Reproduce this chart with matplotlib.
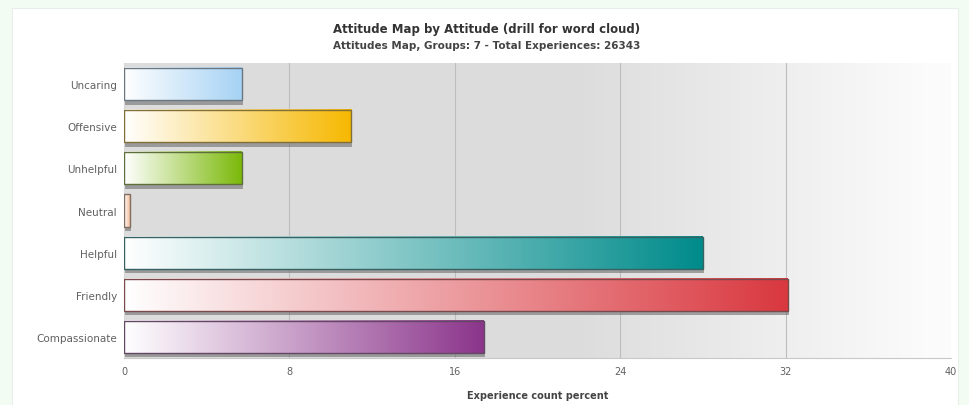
import numpy as np
import matplotlib
matplotlib.use("Agg")
import matplotlib.pyplot as plt
from matplotlib.colors import LinearSegmentedColormap, to_rgb
from matplotlib.transforms import offset_copy

categories = ["Uncaring", "Offensive", "Unhelpful", "Neutral", "Helpful", "Friendly", "Compassionate"]
percent = [5.7, 11.0, 5.7, 0.3, 28.0, 32.1, 17.4]
colors = ["#a6d2f4", "#f6b800", "#7bb90a", "#f2b48c", "#008b8b", "#d9383f", "#8b358b"]
xticks = [0, 8, 16, 24, 32, 40]

title = "Attitude Map by Attitude (drill for word cloud)"
subtitle = "Attitudes Map, Groups: 7 - Total Experiences: 26343"
xlabel = "Experience count percent"

plt.rcParams["font.family"] = ["DejaVu Sans"]

fig = plt.figure(figsize=(9.69, 4.06), dpi=100)
fig.patch.set_facecolor("#f3fcf3")

# white card behind the chart
card = plt.Rectangle((12 / 969, 0), (958 - 12) / 969, (406 - 9) / 406,
                     transform=fig.transFigure, facecolor="white",
                     edgecolor="#e8efe8", lw=0.8, zorder=-10)
fig.add_artist(card)

ax = fig.add_axes([124 / 969, 1 - 359 / 406, (951 - 124) / 969, (359 - 64) / 406])
ax.set_zorder(1)
ax.set_facecolor("none")

# plot-area background: grey fading to white on the right
xs = np.linspace(0, 1, 400)
bg = np.where(xs < 0.55, 0.865, 0.865 + (0.985 - 0.865) * np.clip((xs - 0.55) / 0.42, 0, 1))
bg_rgb = np.dstack([bg, bg, bg])[0][None, :, :]
ax.imshow(bg_rgb, extent=[0, 1, 0, 1], transform=ax.transAxes, aspect="auto", zorder=0)

ypos = np.arange(len(categories))
bar_h = 0.76

for x in xticks[1:-1]:
    ax.axvline(x, color="#bdbdbd", lw=0.8, zorder=0.5)

# drop shadows
shadow_tr = offset_copy(ax.transData, fig=fig, x=1.0, y=-4.5, units="dots")
ax.barh(ypos, percent, height=bar_h, color="#6e6e6e", alpha=0.6,
        transform=shadow_tr, zorder=1)

# gradient fills: white on the left to full colour on the right
for y, v, c in zip(ypos, percent, colors):
    cmap = LinearSegmentedColormap.from_list("g", ["#ffffff", c])
    grad = np.linspace(0, 1, 256)[None, :]
    ax.imshow(grad, cmap=cmap, extent=[0, v, y + bar_h / 2, y - bar_h / 2],
              aspect="auto", zorder=2, interpolation="bilinear")

grey = np.array(to_rgb("#707070"))
edge_cols = [tuple(0.5 * np.array(to_rgb(c)) * 0.6 + 0.5 * grey) for c in colors]
ax.barh(ypos, percent, height=bar_h, facecolor="none", edgecolor=edge_cols,
        linewidth=1.0, zorder=3)

ax.set_ylim(len(categories) - 0.5, -0.5)
ax.set_xlim(0, 40)
ax.set_xticks(xticks)
ax.set_xticklabels([str(t) for t in xticks], fontsize=7, color="#606060")
ax.set_yticks(ypos)
ax.set_yticklabels(categories, fontsize=7.5, color="#606060")
ax.tick_params(axis="both", length=0, pad=5)
ax.tick_params(axis="x", pad=6)

for s in ["top", "right"]:
    ax.spines[s].set_visible(False)
ax.spines["left"].set_color("#d8d8d8")
ax.spines["bottom"].set_color("#c8c8c8")
ax.spines["left"].set_linewidth(0.8)
ax.spines["bottom"].set_linewidth(0.8)

ax.set_xlabel(xlabel, fontsize=7, color="#444444", fontweight="bold", labelpad=10)

fig.text(487 / 969, 1 - 29 / 406, title, ha="center", va="center",
         fontsize=8.5, fontweight="bold", color="#333333")
fig.text(487 / 969, 1 - 46 / 406, subtitle, ha="center", va="center",
         fontsize=7.5, fontweight="bold", color="#444444")

fig.savefig("out.png", dpi=100, facecolor=fig.get_facecolor())
